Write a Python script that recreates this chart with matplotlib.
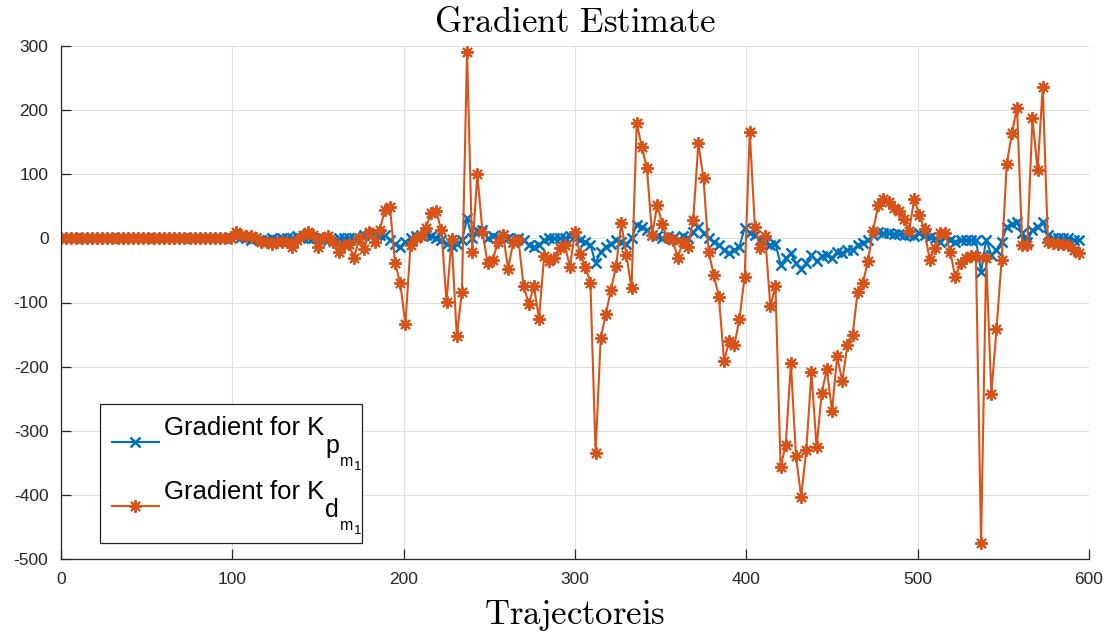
import numpy as np
import matplotlib
matplotlib.use("Agg")
import matplotlib.pyplot as plt
from matplotlib.font_manager import FontProperties

# gradient estimates, one value every 3 trajectories (0..594)
grad_kp = [0] * 34 + [
    3, 2, 0, -2, 0, -2, -3, 0, -2, 0, 0, 0, 3, 0, 0, 0, 0, 1, -3, -3, 0,
    0, 0, 0, 0, 5, 5, 8, 5, 5, -3, -8, -13, -5, 0, 3, 5, 5, 3, 0, -3,
    -8, -12, -8, -3, 31, 0, 13, 13, 0, 3, 0, 5, 0, -5, 0, -3, -10, -13, -10, -3,
    0, 0, 0, 0, 3, 3, -3, -5, -10, -39, -21, -13, -8, -3, -5, -8, 0, 21, 18, 13,
    5, 3, 0, 3, 0, -3, 3, 0, 10, 18, 8, 0, -5, -10, -18, -23, -18, -13, 16, 8,
    5, -2, -5, -10, -8, -41, -31, -23, -39, -47, -39, -26, -36, -28, -26, -31, -21, -23, -18, -18,
    -10, -7, -3, 5, 10, 8, 8, 7, 7, 6, 5, 3, 8, 5, 2, 0, -5, 2, -3, -5,
    -3, -3, -3, -2, -52, -2, -26, -18, -5, 18, 23, 25, 8, -5, 13, 18, 26, 5, 0, 0,
    0, 0, -2, -3]

grad_kd = [0] * 34 + [
    10, 5, 3, 3, 0, -5, -5, -8, -5, -5, -5, -13, -3, 5, 10, 5, -13, 0, 3, -5,
    -21, -10, -8, -31, 0, -16, 10, -5, 13, 44, 49, -39, -70, -134, -10, 0, 4, 16, 40, 42,
    13, -99, -1, -153, -83, 291, -21, 100, 10, -39, -34, -5, 5, -47, -5, -3, -74, -102, -75, -125,
    -27, -36, -31, -15, -10, -44, 10, -25, -44, -69, -334, -156, -118, -80, -43, 24, -26, -78, 180, 143,
    109, 5, 52, 22, 0, -3, -30, -5, -13, 29, 148, 94, -21, -57, -91, -191, -160, -167, -125, -60,
    166, 18, -15, 3, -106, -75, -356, -322, -195, -340, -403, -330, -209, -326, -241, -204, -269, -184, -223, -166,
    -151, -83, -70, -35, 12, 52, 61, 57, 47, 42, 30, 12, 62, 36, 14, -34, -15, 8, 8, -21,
    -61, -39, -30, -28, -27, -475, -31, -242, -142, -34, 116, 164, 204, -10, -10, 187, 107, 236, -5, -7,
    -8, -8, -10, -18, -23]

trajectories = np.arange(len(grad_kd)) * 3

x_ticks = [0, 100, 200, 300, 400, 500, 600]
y_ticks = [-500, -400, -300, -200, -100, 0, 100, 200, 300]

# legend text: "Gradient for K" plus the nested subscripts (p|d, m, 1)
legend_base = "Gradient for K"
legend_subs = [("p", "m", "1"), ("d", "m", "1")]

# matlab default colours
blue = "#0072BD"
orange = "#D95319"
axis_grey = "#262626"

plt.rcParams["axes.unicode_minus"] = False

fig = plt.figure(figsize=(11.16, 6.37), dpi=100)
ax = fig.add_axes([61 / 1116, 1 - 559 / 637, (1089 - 61) / 1116, (559 - 46) / 637])

# empty second line makes room for the low subscripts
ax.plot(trajectories, grad_kp, color=blue, lw=1.5, marker="x", ms=7, mew=1.8,
        label=legend_base + "\n")
ax.plot(trajectories, grad_kd, color=orange, lw=1.5, marker=(8, 2, 0), ms=9, mew=1.4,
        label=legend_base + "\n")

ax.set_xlim(0, 600)
ax.set_ylim(-500, 300)
ax.set_xticks(x_ticks)
ax.set_yticks(y_ticks)
ax.grid(True, color="#dfdfdf", lw=0.8)
ax.set_axisbelow(True)

# box off, matlab style
for side in ["top", "right"]:
    ax.spines[side].set_visible(False)
for side in ["left", "bottom"]:
    ax.spines[side].set_color(axis_grey)
    ax.spines[side].set_linewidth(0.9)
ax.tick_params(direction="in", length=7.2, width=0.9, colors=axis_grey, labelsize=12.5,
               labelcolor=axis_grey)
ax.tick_params(axis="x", pad=9)
ax.tick_params(axis="y", pad=9)
for lbl in ax.get_xticklabels() + ax.get_yticklabels():
    lbl.set_fontfamily("Liberation Sans")

ax.set_title(r"$\mathrm{Gradient\ Estimate}$", fontsize=25, pad=10, math_fontfamily="cm")
ax.set_xlabel(r"$\mathrm{Trajectoreis}$", fontsize=25, labelpad=8, math_fontfamily="cm")

# expand mode gives the frame a fixed width, wide enough for the subscripts
leg_font = FontProperties(family="Liberation Sans", size=18.5)
leg = ax.legend(loc="lower left", bbox_to_anchor=(39 / 1028, 16 / 513, 262 / 1028, 0.3),
                mode="expand", prop=leg_font, fancybox=False, framealpha=1,
                edgecolor=axis_grey, handlelength=1.85, handletextpad=0.2,
                borderpad=0.45, labelspacing=0.47, borderaxespad=0)
leg.get_frame().set_linewidth(0.9)

# place subscripts relative to the end of "K" on the first line of each label
renderer = fig.canvas.get_renderer()
wK, hK, dK = renderer.get_text_width_height_descent(legend_base, leg_font, ismath=False)
_, hlp, dlp = renderer.get_text_width_height_descent("lp", leg_font, ismath=False)
base = max(hK, hlp) - max(dK, dlp)
sub_style = [(18, 1, 18.3), (11.5, 15.5, 31.7), (9.5, 29, 35)]  # size, dx, drop (pixels)
for txt, subs in zip(leg.get_texts(), legend_subs):
    for s, (size, dx, drop) in zip(subs, sub_style):
        ax.annotate(s, xy=(0, 1), xycoords=txt, xytext=(wK + dx, -(base + drop)),
                    textcoords="offset pixels", fontsize=size, family="Liberation Sans",
                    ha="left", va="baseline", zorder=10)

fig.savefig("out.png", dpi=100)
